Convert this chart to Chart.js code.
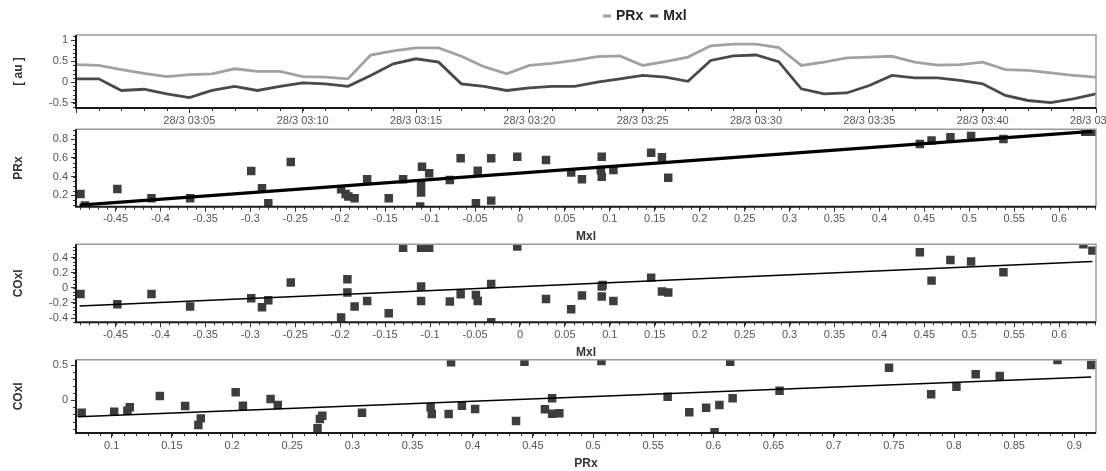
<!DOCTYPE html>
<html><head><meta charset="utf-8">
<script src="https://cdn.jsdelivr.net/npm/chart.js@4.4.1/dist/chart.umd.min.js"></script>
<style>
html,body{margin:0;padding:0;background:#fff;}
#wrap{position:relative;width:1106px;height:471px;overflow:hidden;background:#fff;}
canvas{position:absolute;left:0;}
</style></head><body>
<div id="wrap">
<canvas id="c1" width="1106" height="130" style="top:0px"></canvas>
<canvas id="c2" width="1106" height="124" style="top:120px"></canvas>
<canvas id="c3" width="1106" height="125" style="top:235px"></canvas>
<canvas id="c4" width="1106" height="121" style="top:350px"></canvas>
</div>
<script>
// ---------- DATA ----------
const times = ["28/3 03:00","28/3 03:01","28/3 03:02","28/3 03:03","28/3 03:04","28/3 03:05","28/3 03:06","28/3 03:07","28/3 03:08","28/3 03:09",
"28/3 03:10","28/3 03:11","28/3 03:12","28/3 03:13","28/3 03:14","28/3 03:15","28/3 03:16","28/3 03:17","28/3 03:18","28/3 03:19",
"28/3 03:20","28/3 03:21","28/3 03:22","28/3 03:23","28/3 03:24","28/3 03:25","28/3 03:26","28/3 03:27","28/3 03:28","28/3 03:29",
"28/3 03:30","28/3 03:31","28/3 03:32","28/3 03:33","28/3 03:34","28/3 03:35","28/3 03:36","28/3 03:37","28/3 03:38","28/3 03:39",
"28/3 03:40","28/3 03:41","28/3 03:42","28/3 03:43","28/3 03:44","28/3 03:45"];
const prxSeries = [0.42,0.40,0.30,0.21,0.13,0.18,0.20,0.32,0.26,0.26,0.13,0.12,0.08,0.65,0.75,0.82,0.82,0.62,0.37,0.20,
0.40,0.45,0.52,0.61,0.63,0.40,0.49,0.60,0.87,0.91,0.91,0.83,0.40,0.48,0.58,0.60,0.62,0.48,0.41,0.42,0.48,0.30,0.28,0.22,0.16,0.12];
const mxlSeries = [0.08,0.08,-0.20,-0.17,-0.28,-0.37,-0.20,-0.10,-0.20,-0.10,-0.02,-0.04,-0.10,0.16,0.44,0.56,0.48,-0.04,-0.10,-0.20,
-0.14,-0.10,-0.10,0.00,0.08,0.16,0.12,0.02,0.52,0.63,0.65,0.49,-0.16,-0.28,-0.26,-0.08,0.16,0.10,0.10,0.04,-0.04,-0.32,-0.44,-0.49,-0.40,-0.28];

// scatter: PRx vs Mxl
const sc2Mxl = [-0.489,-0.484,-0.448,-0.41,-0.367,-0.299,-0.287,-0.28,-0.255,-0.199,-0.194,-0.191,-0.184,-0.17,-0.146,-0.13,-0.109,-0.11,-0.11,-0.111,
-0.101,-0.078,-0.066,-0.047,-0.049,-0.032,-0.032,-0.003,0.029,0.057,0.069,0.091,0.09,0.091,0.104,0.146,0.158,0.165,0.445,0.458,0.479,0.502,0.538,0.629,0.637];
const sc2Prx = [0.214,0.09,0.268,0.168,0.168,0.46,0.275,0.114,0.557,0.264,0.214,0.186,0.168,0.371,0.168,0.371,0.507,0.31,0.229,0.079,
0.436,0.364,0.596,0.464,0.114,0.596,0.143,0.614,0.579,0.443,0.371,0.614,0.471,0.4,0.471,0.657,0.607,0.389,0.75,0.786,0.821,0.836,0.804,0.882,0.88];
const fit2X = [-0.49, 0.637];
const fit2Y = [0.095, 0.885];

// scatter: COxl vs Mxl
const sc3Mxl = [-0.489,-0.448,-0.41,-0.367,-0.299,-0.287,-0.28,-0.255,-0.199,-0.192,-0.192,-0.184,-0.17,-0.146,-0.13,-0.11,-0.101,-0.11,-0.11,-0.078,
-0.066,-0.049,-0.047,-0.032,-0.032,-0.003,0.029,0.057,0.069,0.091,0.091,0.092,0.104,0.146,0.158,0.165,0.445,0.458,0.479,0.502,0.538,0.627,0.637];
const sc3Coxl = [-0.08,-0.217,-0.08,-0.248,-0.137,-0.257,-0.164,0.071,-0.394,0.115,-0.062,-0.248,-0.173,-0.336,0.535,0.535,0.535,0.018,-0.173,-0.181,
-0.084,-0.093,-0.173,0.053,-0.456,0.549,-0.146,-0.283,-0.102,-0.115,0.018,0.04,-0.173,0.137,-0.049,-0.062,0.473,0.097,0.372,0.35,0.208,0.58,0.496];
const fit3X = [-0.49, 0.637];
const fit3Y = [-0.24, 0.352];

// scatter: COxl vs PRx
const sc4Prx = [0.075,0.102,0.113,0.115,0.14,0.161,0.174,0.172,0.203,0.209,0.232,0.238,0.271,0.273,0.275,0.308,0.365,0.366,0.38,0.382,
0.391,0.402,0.436,0.443,0.46,0.466,0.466,0.472,0.507,0.562,0.58,0.594,0.605,0.601,0.614,0.616,0.655,0.746,0.781,0.802,0.818,0.838,0.886,0.914];
const sc4Coxl = [-0.175,-0.16,-0.146,-0.099,0.061,-0.08,-0.255,-0.349,0.113,-0.075,0.019,-0.066,-0.396,-0.264,-0.217,-0.175,-0.099,-0.193,-0.193,0.538,
-0.075,-0.123,-0.292,0.547,-0.127,0.028,-0.19,-0.184,0.557,0.052,-0.17,-0.104,-0.066,-0.453,0.547,0.028,0.137,0.462,0.085,0.193,0.368,0.344,0.571,0.5];
const fit4X = [0.072, 0.914];
const fit4Y = [-0.232, 0.33];

// tick labels
const yTicks1 = [-0.5, 0, 0.5, 1];
const xTicksMxl = [-0.45,-0.4,-0.35,-0.3,-0.25,-0.2,-0.15,-0.1,-0.05,0,0.05,0.1,0.15,0.2,0.25,0.3,0.35,0.4,0.45,0.5,0.55,0.6];
const yTicks2 = [0.2, 0.4, 0.6, 0.8];
const yTicks3 = [-0.4, -0.2, 0, 0.2, 0.4];
const xTicksPrx = [0.1,0.15,0.2,0.25,0.3,0.35,0.4,0.45,0.5,0.55,0.6,0.65,0.7,0.75,0.8,0.85,0.9];
const yTicks4 = [0, 0.5];

// ---------- STYLE / HELPERS ----------
Chart.defaults.font.family = "'Liberation Sans', Arial, sans-serif";
Chart.defaults.font.size = 11;
Chart.defaults.color = '#555';
const PLOT_LEFT = 76, PLOT_RIGHT = 1096, W = 1106;
const TICK_COLOR = '#333';
const POINT_COLOR = '#3d3d3d';

function pairs(xs, ys){ return xs.map((x,i)=>({x:x, y:ys[i]})); }
function fixedTicks(arr){ return function(scale){ scale.ticks = arr.map(v=>({value:v})); }; }
function fitY(s){ s.width = PLOT_LEFT; s.paddingTop = 0; s.paddingBottom = 0; }
function fitX(h){ return function(s){ s.height = h; s.paddingLeft = 0; s.paddingRight = 0; }; }

const framePlugin = {
  id: 'frame',
  afterDraw(chart, args, opts) {
    const {ctx, chartArea: a} = chart;
    const xs = chart.scales.x, ys = chart.scales.y;
    ctx.save();
    ctx.strokeStyle = TICK_COLOR; ctx.lineWidth = 1;
    ctx.beginPath();
    if (opts.xMinor) {
      const k0 = Math.ceil(xs.min / opts.xMinor - 1e-6), k1 = Math.floor(xs.max / opts.xMinor + 1e-6);
      for (let k = k0; k <= k1; k++) {
        const px = Math.round(xs.getPixelForValue(k * opts.xMinor)) + 0.5;
        ctx.moveTo(px, a.bottom); ctx.lineTo(px, a.bottom + 3);
      }
    }
    if (opts.yMinor) {
      const k0 = Math.ceil(ys.min / opts.yMinor - 1e-6), k1 = Math.floor(ys.max / opts.yMinor + 1e-6);
      for (let k = k0; k <= k1; k++) {
        const py = Math.round(ys.getPixelForValue(k * opts.yMinor)) + 0.5;
        ctx.moveTo(a.left, py); ctx.lineTo(a.left - 3, py);
      }
    }
    ctx.stroke();
    ctx.strokeStyle = '#9a9a9a'; ctx.lineWidth = 1.5;
    ctx.beginPath(); ctx.moveTo(a.left, a.top); ctx.lineTo(a.right, a.top); ctx.lineTo(a.right, a.bottom); ctx.stroke();
    ctx.strokeStyle = '#1a1a1a'; ctx.lineWidth = 2;
    ctx.beginPath(); ctx.moveTo(a.left, a.top); ctx.lineTo(a.left, a.bottom); ctx.lineTo(a.right, a.bottom); ctx.stroke();
    ctx.restore();
  }
};

const legendPlugin = {
  id: 'miniLegend',
  afterDraw(chart, args, opts) {
    if (!opts.show) return;
    const ctx = chart.ctx;
    ctx.save();
    ctx.font = "bold 14px 'Liberation Sans', Arial, sans-serif";
    ctx.textBaseline = 'middle';
    let x = opts.x;
    const y = opts.y;
    chart.data.datasets.forEach(ds => {
      ctx.strokeStyle = ds.borderColor; ctx.lineWidth = 3;
      ctx.beginPath(); ctx.moveTo(x, y); ctx.lineTo(x + 8, y); ctx.stroke();
      x += 13;
      ctx.fillStyle = '#222';
      ctx.fillText(ds.label, x, y);
      x += ctx.measureText(ds.label).width + 7;
    });
    ctx.restore();
  }
};

function yAxis(min, max, ticksArr, title) {
  return {
    type: 'linear', position: 'left', min: min, max: max, bounds: 'data',
    afterBuildTicks: fixedTicks(ticksArr), afterFit: fitY,
    grid: {display: true, drawOnChartArea: false, drawTicks: true, tickLength: 5, tickColor: TICK_COLOR},
    border: {display: false},
    ticks: {padding: 3, color: '#555', font: {size: 11}, callback: v => String(v)},
    title: {display: true, text: title, color: '#333', font: {size: 12, weight: 'bold'}, padding: {top: 11, bottom: 0}}
  };
}
function xAxisLin(min, max, ticksArr, title, h) {
  return {
    type: 'linear', position: 'bottom', min: min, max: max, bounds: 'data',
    afterBuildTicks: fixedTicks(ticksArr), afterFit: fitX(h),
    grid: {display: true, drawOnChartArea: false, drawTicks: true, tickLength: 5, tickColor: TICK_COLOR},
    border: {display: false},
    ticks: {padding: 1, color: '#555', font: {size: 11}, maxRotation: 0, autoSkip: false, callback: v => String(v)},
    title: {display: true, text: title, color: '#333', font: {size: 12, weight: 'bold'}, padding: {top: 0, bottom: 0}}
  };
}
function scatterDataset(xs, ys) {
  return {type: 'scatter', data: pairs(xs, ys), pointStyle: 'rect', pointRadius: 6, pointHoverRadius: 6,
          backgroundColor: POINT_COLOR, borderColor: POINT_COLOR, borderWidth: 0, clip: 0, showLine: false};
}
function fitDataset(xs, ys, w) {
  return {type: 'line', data: pairs(xs, ys), borderColor: '#000', borderWidth: w, pointRadius: 0,
          pointHoverRadius: 0, fill: false, tension: 0, clip: 0};
}
function commonOpts(padTop) {
  return {
    responsive: false, animation: false, events: [],
    layout: {padding: {top: padTop, left: 0, right: W - PLOT_RIGHT, bottom: 0}},
    plugins: {legend: {display: false}, tooltip: {enabled: false}}
  };
}

// ---------- PANEL 1: time series ----------
(function(){
  const o = commonOpts(35);
  o.scales = {
    x: {
      type: 'category', position: 'bottom', offset: false, afterFit: fitX(130 - 108),
      grid: {display: true, drawOnChartArea: false, drawTicks: true, tickLength: 5, offset: false,
             tickColor: c => (c.index % 5 === 0 ? TICK_COLOR : 'rgba(0,0,0,0)')},
      border: {display: false},
      ticks: {padding: 1, color: '#555', font: {size: 11}, maxRotation: 0, minRotation: 0, autoSkip: false,
              callback: function(v, i){ return (i % 5 === 0 && i > 0) ? this.getLabelForValue(v) : ''; }}
    },
    y: yAxis(-0.62, 1.13, yTicks1, '[ au ]')
  };
  o.plugins.frame = {xMinor: 1, yMinor: 0.1};
  o.plugins.miniLegend = {show: true, x: 603, y: 16};
  new Chart(document.getElementById('c1'), {
    type: 'line',
    data: {labels: times, datasets: [
      {label: 'PRx', data: prxSeries, borderColor: '#a2a2a2', borderWidth: 2.8, pointRadius: 0, tension: 0, fill: false, clip: 0},
      {label: 'Mxl', data: mxlSeries, borderColor: '#4a4a4a', borderWidth: 2.8, pointRadius: 0, tension: 0, fill: false, clip: 0}
    ]},
    options: o,
    plugins: [framePlugin, legendPlugin]
  });
})();

// ---------- PANEL 2: PRx vs Mxl ----------
(function(){
  const top = 120, h = 124, aTop = 129.3, aBot = 206.7;
  const o = commonOpts(aTop - top);
  o.scales = {x: xAxisLin(-0.494, 0.641, xTicksMxl, 'Mxl', top + h - aBot), y: yAxis(0.078, 0.907, yTicks2, 'PRx')};
  o.plugins.frame = {xMinor: 0.01, yMinor: 0.05};
  new Chart(document.getElementById('c2'), {
    type: 'scatter',
    data: {datasets: [fitDataset(fit2X, fit2Y, 3.2), scatterDataset(sc2Mxl, sc2Prx)]},
    options: o, plugins: [framePlugin]
  });
})();

// ---------- PANEL 3: COxl vs Mxl ----------
(function(){
  const top = 235, h = 125, aTop = 244.3, aBot = 322.3;
  const o = commonOpts(aTop - top);
  o.scales = {x: xAxisLin(-0.494, 0.641, xTicksMxl, 'Mxl', top + h - aBot), y: yAxis(-0.457, 0.58, yTicks3, 'COxl')};
  o.plugins.frame = {xMinor: 0.01, yMinor: 0.05};
  new Chart(document.getElementById('c3'), {
    type: 'scatter',
    data: {datasets: [fitDataset(fit3X, fit3Y, 1.6), scatterDataset(sc3Mxl, sc3Coxl)]},
    options: o, plugins: [framePlugin]
  });
})();

// ---------- PANEL 4: COxl vs PRx ----------
(function(){
  const top = 350, h = 121, aTop = 359.7, aBot = 433;
  const o = commonOpts(aTop - top);
  o.scales = {x: xAxisLin(0.0703, 0.918, xTicksPrx, 'PRx', top + h - aBot), y: yAxis(-0.462, 0.575, yTicks4, 'COxl')};
  o.plugins.frame = {xMinor: 0.01, yMinor: 0.1};
  new Chart(document.getElementById('c4'), {
    type: 'scatter',
    data: {datasets: [fitDataset(fit4X, fit4Y, 1.6), scatterDataset(sc4Prx, sc4Coxl)]},
    options: o, plugins: [framePlugin]
  });
})();
</script>
</body></html>
